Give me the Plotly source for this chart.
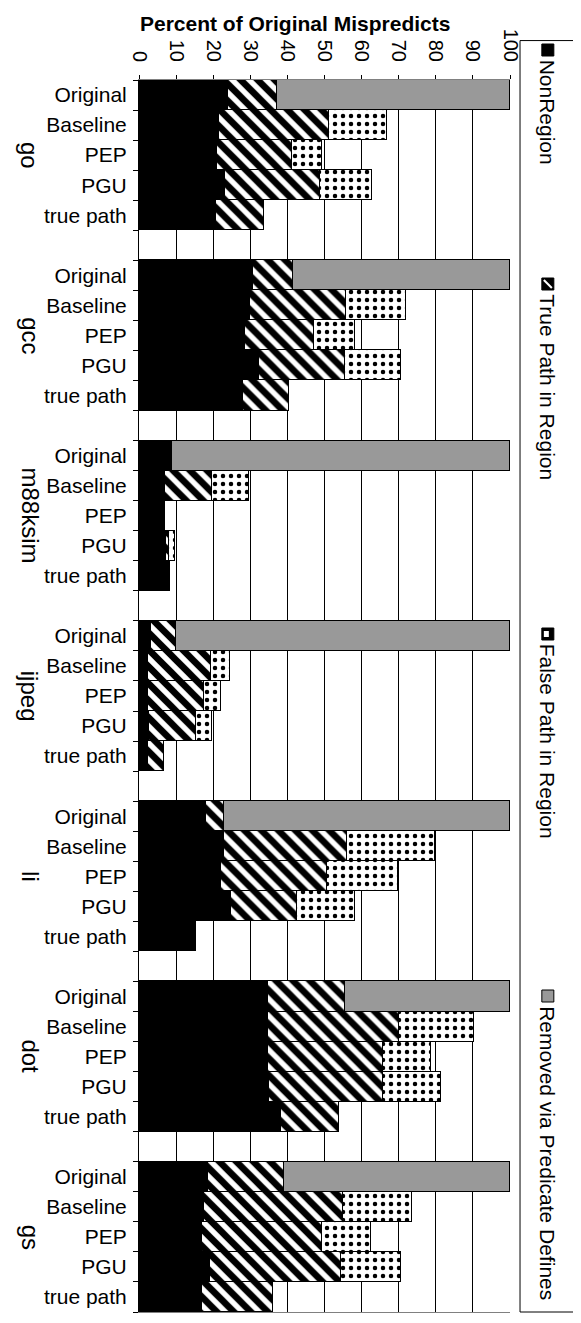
import plotly.graph_objects as go

# benchmarks (outer groups) and the five configurations inside each one
groups = ["go", "gcc", "m88ksim", "ijpeg", "li", "dot", "gs"]
configs = ["Original", "Baseline", "PEP", "PGU", "true path"]
x_ticks = [0, 10, 20, 30, 40, 50, 60, 70, 80, 90, 100]

# segment lengths (percent of original mispredicts), one row per benchmark,
# columns follow `configs`
non_region = [
    [24.0, 21.6, 20.9, 23.1, 20.7],
    [30.6, 29.9, 28.6, 32.3, 27.9],
    [8.9, 7.1, 7.1, 7.4, 8.3],
    [3.2, 2.4, 2.4, 2.7, 2.4],
    [18.0, 22.9, 22.2, 24.7, 15.3],
    [34.9, 34.9, 34.9, 35.1, 38.3],
    [18.6, 17.5, 16.9, 19.1, 17.1],
]
true_path = [
    [13.3, 29.5, 20.3, 25.8, 13.0],
    [10.8, 25.9, 18.6, 23.1, 12.6],
    [0, 12.6, 0, 0.7, 0],
    [6.7, 17.1, 15.0, 12.6, 4.3],
    [4.9, 33.1, 28.6, 17.8, 0],
    [20.7, 35.3, 31.0, 30.6, 15.7],
    [20.4, 37.4, 32.5, 35.4, 19.1],
]
false_path = [
    [0, 15.7, 8.2, 14.0, 0],
    [0, 16.2, 10.9, 15.1, 0],
    [0, 9.9, 0, 1.7, 0],
    [0, 4.9, 4.8, 4.4, 0],
    [0, 23.7, 19.0, 15.8, 0],
    [0, 20.1, 12.9, 15.7, 0],
    [0, 18.7, 13.1, 16.2, 0],
]
removed = [
    [62.7, 0, 0, 0, 0],
    [58.6, 0, 0, 0, 0],
    [91.1, 0, 0, 0, 0],
    [90.1, 0, 0, 0, 0],
    [77.1, 0, 0, 0, 0],
    [44.4, 0, 0, 0, 0],
    [61.0, 0, 0, 0, 0],
]

FONT = "Arial, Liberation Sans, sans-serif"
STEP = len(configs) + 1  # one empty row between benchmarks

rows = [g * STEP + r for g in range(len(groups)) for r in range(len(configs))]
labels = [c for _ in groups for c in configs]


def flat(table):
    return [v if v else None for row in table for v in row]


fig = go.Figure()

series = [
    ("NonRegion", non_region, dict(color="black")),
    ("True Path in Region", true_path,
     dict(color="white", pattern=dict(shape="\\", fgcolor="black", bgcolor="white",
                                      fgopacity=1, size=12, solidity=0.55))),
    ("False Path in Region", false_path,
     dict(color="white", pattern=dict(shape=".", fgcolor="black", bgcolor="white",
                                      fgopacity=1, size=8, solidity=0.25))),
    ("Removed via Predicate Defines", removed, dict(color="#999999")),
]

for name, table, marker in series:
    marker["line"] = dict(color="black", width=1.5)
    fig.add_trace(
        go.Bar(
            x=flat(table),
            y=rows,
            orientation="h",
            width=1,
            name=name,
            marker=marker,
        )
    )

# rotated benchmark names on the far left
for g, name in enumerate(groups):
    fig.add_annotation(
        x=-0.335, xref="paper", y=g * STEP + 2, yref="y",
        text=name, textangle=90, showarrow=False,
        font=dict(family=FONT, size=24, color="black"),
    )

# axis title
fig.add_annotation(
    x=0.42, xref="paper", y=1.057, yref="paper",
    text="<b>Percent of Original Mispredicts</b>", showarrow=False,
    font=dict(family=FONT, size=21, color="black"),
)

# rotated legend, drawn by hand
fig.add_shape(type="rect", xref="paper", yref="paper",
              x0=1.027, x1=1.181, y0=0.0, y1=1.032,
              line=dict(color="black", width=1), fillcolor="white")

legend_items = [
    ("NonRegion", 44),
    ("True Path in Region", 278),
    ("False Path in Region", 628),
    ("Removed via Predicate Defines", 990),
]
lx = 1.102
for i, (text, top_px) in enumerate(legend_items):
    yp = (1312 - top_px) / 1232
    fill = ["black", "black", "black", "#999999"][i]
    fig.add_shape(type="rect", xref="paper", yref="paper",
                  xsizemode="pixel", ysizemode="pixel", xanchor=lx, yanchor=yp,
                  x0=-6, x1=6, y0=-12, y1=0,
                  line=dict(color="black", width=1), fillcolor=fill)
    if i == 1:
        fig.add_shape(type="line", xref="paper", yref="paper",
                      xsizemode="pixel", ysizemode="pixel", xanchor=lx, yanchor=yp,
                      x0=-4, x1=4, y0=-2, y1=-10,
                      line=dict(color="white", width=2))
    if i == 2:
        fig.add_shape(type="rect", xref="paper", yref="paper",
                      xsizemode="pixel", ysizemode="pixel", xanchor=lx, yanchor=yp,
                      x0=-4, x1=1, y0=-9, y1=-3,
                      line=dict(width=0), fillcolor="white")
    fig.add_annotation(
        x=lx, xref="paper", y=yp - 14 / 1232, yref="paper",
        yanchor="top", xanchor="center",
        text=text, textangle=90, showarrow=False,
        font=dict(family=FONT, size=21, color="black"),
    )

# the page body adds an 8px offset, so the figure is 8px smaller each way
fig.update_layout(
    width=573,
    height=1315,
    barmode="stack",
    bargap=0,
    showlegend=False,
    plot_bgcolor="white",
    paper_bgcolor="white",
    margin=dict(l=131, r=71, t=72, b=11, pad=0),
    font=dict(family=FONT, size=18, color="black"),
)

fig.update_xaxes(
    side="top",
    range=[0, 100],
    tickvals=x_ticks,
    tickangle=90,
    ticks="outside",
    ticklen=4,
    tickcolor="black",
    ticklabelstandoff=6,
    tickfont=dict(family=FONT, size=20, color="black"),
    showgrid=True,
    gridcolor="black",
    gridwidth=1,
    zeroline=False,
    showline=True,
    linecolor="#808080",
    mirror=True,
    automargin=False,
)

fig.update_yaxes(
    range=[len(groups) * STEP - 1.5, -0.5],
    tickvals=rows,
    ticktext=labels,
    ticks="",
    ticklabelstandoff=7,
    tickfont=dict(family=FONT, size=21, color="black"),
    showgrid=False,
    zeroline=False,
    showline=True,
    linecolor="black",
    linewidth=1,
    automargin=False,
    minor=dict(tick0=0.5, dtick=1, ticks="outside", ticklen=5, tickcolor="black",
               showgrid=False),
)

fig.write_html("out.html")
